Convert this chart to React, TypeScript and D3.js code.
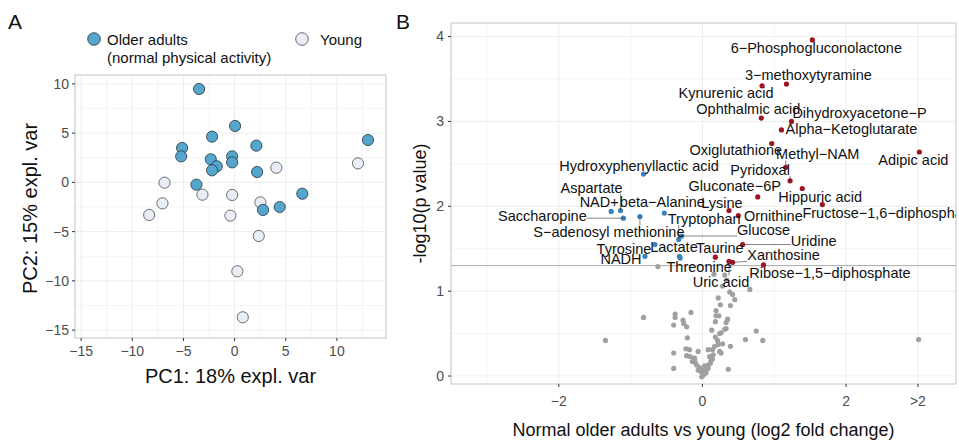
import React, { useEffect, useRef } from "react";
import * as d3 from "d3";

// ---------- Panel A data ----------
const olderPC1 = [-3.47, 0.05, -2.2, -5.13, -5.22, 2.13, -2.33, -1.74, -2.2, -0.24, -0.24, 2.2, -3.73, 13.04, 6.62, 2.78, 4.41];
const olderPC2 = [9.48, 5.73, 4.64, 3.49, 2.64, 3.73, 2.34, 1.63, 1.22, 2.64, 2.03, 1.05, -0.23, 4.3, -1.15, -2.8, -2.5];
const youngPC1 = [-6.85, -7.05, -8.35, -3.14, -0.24, -0.41, 4.08, 2.52, 2.36, 0.27, 0.8, 12.06];
const youngPC2 = [-0.03, -2.13, -3.31, -1.25, -1.28, -3.38, 1.49, -2.03, -5.44, -9.03, -13.7, 1.93];
const aTicks = [-15, -10, -5, 0, 5, 10];

// ---------- Panel B data ----------
const upNames = ["6−Phosphogluconolactone", "3−methoxytyramine", "Kynurenic acid", "Ophthalmic acid", "Dihydroxyacetone−P", "Alpha−Ketoglutarate", "Oxiglutathione", "Methyl−NAM", "Adipic acid", "Pyridoxal", "Hippuric acid", "Gluconate−6P", "Fructose−1,6−diphosphate", "Lysine", "Ornithine", "Uridine", "Taurine", "Uric acid", "Xanthosine", "Ribose−1,5−diphosphate"];
const upFC = [1.53, 1.17, 0.83, 0.82, 1.24, 1.1, 0.965, 1.16, 3.02, 1.22, 1.39, 0.77, 1.67, 0.37, 0.5, 0.56, 0.18, 0.37, 0.42, 0.85];
const upP = [3.96, 3.44, 3.42, 3.04, 3.0, 2.9, 2.74, 2.46, 2.64, 2.3, 2.21, 2.11, 2.02, 1.95, 1.89, 1.55, 1.4, 1.35, 1.34, 1.31];
const upDx = [4, 22, -36, -13, 68, 70, -36, 32, -6, -30, 18, -23, -20, -7, 35, 71, 4.5, -8, 51, 66.5];
const upDy = [8, -9, 7, -9, -9, -1, 6, -13, 8, -11, 8, -11, 8, -8, 0, -4, -9, 20, -7, 8];

const downNames = ["Hydroxyphenyllactic acid", "Aspartate", "NAD+", "beta−Alanine", "Saccharopine", "S−adenosyl methionine", "Tryptophan", "Glucose", "Tyrosine", "Lactate", "Threonine", "NADH"];
const downFC = [-0.82, -1.14, -1.27, -0.53, -1.1, -0.87, -0.33, -0.29, -0.66, -0.32, -0.31, -0.8];
const downP = [2.38, 1.95, 1.94, 1.92, 1.86, 1.88, 1.61, 1.65, 1.55, 1.41, 1.39, 1.41];
const downDx = [-4.5, -29, -12, -2, -81, -31, 25.5, 82, -31, -5.5, 19, -24];
const downDy = [-8, -23, -9, -11, -2, 15, -20.5, -6, 4, -9, 9, 3];

const segmentNames = ["Methyl−NAM", "Pyridoxal", "Uridine", "Xanthosine", "Uric acid", "Aspartate", "Saccharopine", "S−adenosyl methionine", "Tryptophan", "Glucose"];

const greyFC = [-0.62, 0.16, 0.31, 0.34, 0.28, 0.66, 0.38, 0.42, 0.45, 0.22, 0.25, 0.39, 0.19, -0.16, -0.38, -0.38, -0.82, 0.19, 0.23, 0.35, 0.33, 0.18, -0.27, -0.26, -0.22, -0.4, 0.33, 0.31, 0.13, 0.26, 0.24, 0.75, -0.21, 0.18, -1.35, 0.6, 0.84, 3.01, 0.21, 0.22, 0.39, 0.17, -0.23, -0.18, -0.06, 0.08, 0.14, 0.24, 0.26, -0.4, -0.22, -0.17, -0.11, 0.1, 0.14, -0.14, -0.08, -0.04, 0.01, 0.05, 0.01, 0.08, 0.11, 0.08, 0.03, -0.06, -0.4, 0.36, -0.01, -0.1, -0.02, 0.03, 0.06, 0.12, -0.12, 0.15, 0.28];
const greyP = [1.29, 1.2, 1.19, 1.13, 1.06, 1.02, 0.99, 0.96, 0.9, 0.92, 0.84, 0.83, 0.77, 0.75, 0.73, 0.69, 0.69, 0.71, 0.71, 0.67, 0.63, 0.64, 0.66, 0.62, 0.58, 0.6, 0.56, 0.55, 0.54, 0.51, 0.5, 0.53, 0.45, 0.46, 0.42, 0.43, 0.42, 0.43, 0.42, 0.37, 0.35, 0.35, 0.32, 0.31, 0.29, 0.31, 0.31, 0.29, 0.27, 0.27, 0.24, 0.23, 0.21, 0.23, 0.2, 0.17, 0.13, 0.1, 0.07, 0.04, 0.01, 0.09, 0.15, 0.13, 0.12, 0.07, 0.09, 0.08, -0.01, 0.16, 0.05, 0.03, 0.1, 0.18, 0.19, 0.25, 0.38];

const bXTicks = [-2, 0, 2, 3];
const bXTickLabels = ["−2", "0", "2", ">2"];
const bYTicks = [0, 1, 2, 3, 4];
const pThreshold = 1.301;

const FONT = "Liberation Sans, Arial, Helvetica, sans-serif";

export default function App() {
  const ref = useRef<SVGSVGElement | null>(null);

  useEffect(() => {
    const svg = d3.select(ref.current);
    svg.selectAll("*").remove();
    const fmt = d3.format("");

    // ===== Panel A =====
    const ax0 = 75, ax1 = 386, ay0 = 75, ay1 = 338;
    const xA = d3.scaleLinear().domain([-15.6, 14.8]).range([ax0, ax1]);
    const yA = d3.scaleLinear().domain([-15.8, 10.9]).range([ay1, ay0]);
    const gA = svg.append("g");
    gA.append("rect").attr("x", ax0).attr("y", ay0).attr("width", ax1 - ax0).attr("height", ay1 - ay0).attr("fill", "white");
    const minorA = d3.range(-15, 12.6, 2.5);
    minorA.forEach((v) => {
      const major = v % 5 === 0;
      gA.append("line").attr("x1", xA(v)).attr("x2", xA(v)).attr("y1", ay0).attr("y2", ay1)
        .attr("stroke", "#ebebeb").attr("stroke-width", major ? 0.9 : 0.5);
      if (v <= 10)
        gA.append("line").attr("y1", yA(v)).attr("y2", yA(v)).attr("x1", ax0).attr("x2", ax1)
          .attr("stroke", "#ebebeb").attr("stroke-width", major ? 0.9 : 0.5);
    });
    gA.append("rect").attr("x", ax0).attr("y", ay0).attr("width", ax1 - ax0).attr("height", ay1 - ay0)
      .attr("fill", "none").attr("stroke", "#c4c4c4").attr("stroke-width", 1);
    aTicks.forEach((t) => {
      gA.append("line").attr("x1", xA(t)).attr("x2", xA(t)).attr("y1", ay1).attr("y2", ay1 + 3).attr("stroke", "#333");
      gA.append("text").attr("x", xA(t)).attr("y", ay1 + 18).attr("text-anchor", "middle")
        .attr("font-size", 14).attr("fill", "#4d4d4d").attr("font-family", FONT).text(fmt(t));
      gA.append("line").attr("x1", ax0 - 3).attr("x2", ax0).attr("y1", yA(t)).attr("y2", yA(t)).attr("stroke", "#333");
      gA.append("text").attr("x", ax0 - 6).attr("y", yA(t)).attr("dy", "0.35em").attr("text-anchor", "end")
        .attr("font-size", 14).attr("fill", "#4d4d4d").attr("font-family", FONT).text(fmt(t));
    });
    youngPC1.forEach((v, i) => {
      gA.append("circle").attr("cx", xA(v)).attr("cy", yA(youngPC2[i])).attr("r", 5.6)
        .attr("fill", "#e8edf6").attr("stroke", "#4a4a4a").attr("stroke-width", 0.8);
    });
    olderPC1.forEach((v, i) => {
      gA.append("circle").attr("cx", xA(v)).attr("cy", yA(olderPC2[i])).attr("r", 5.6)
        .attr("fill", "#55a5cd").attr("stroke", "#24343c").attr("stroke-width", 0.8);
    });
    gA.append("text").attr("x", (ax0 + ax1) / 2).attr("y", 383).attr("text-anchor", "middle")
      .attr("font-size", 20).attr("font-family", FONT).attr("fill", "#111").text("PC1: 18% expl. var");
    gA.append("text").attr("transform", `translate(37,${(ay0 + ay1) / 2 + 2}) rotate(-90)`).attr("text-anchor", "middle")
      .attr("font-size", 20).attr("font-family", FONT).attr("fill", "#111").text("PC2: 15% expl. var");
    // legend
    gA.append("circle").attr("cx", 94).attr("cy", 39).attr("r", 6.3).attr("fill", "#55a5cd").attr("stroke", "#24343c").attr("stroke-width", 0.8);
    gA.append("text").attr("x", 107).attr("y", 45).attr("font-size", 15).attr("font-family", FONT).attr("fill", "#111").text("Older adults");
    gA.append("text").attr("x", 107).attr("y", 63).attr("font-size", 15).attr("font-family", FONT).attr("fill", "#111").text("(normal physical activity)");
    gA.append("circle").attr("cx", 302).attr("cy", 39).attr("r", 6.3).attr("fill", "#e8edf6").attr("stroke", "#4a4a4a").attr("stroke-width", 0.8);
    gA.append("text").attr("x", 320).attr("y", 45).attr("font-size", 15).attr("font-family", FONT).attr("fill", "#111").text("Young");
    svg.append("text").attr("x", 8).attr("y", 29).attr("font-size", 21).attr("font-family", FONT).attr("fill", "#111").text("A");

    // ===== Panel B =====
    const bx0 = 451, bx1 = 956, by0 = 23, by1 = 384;
    const xB = d3.scaleLinear().domain([-3.5, 3.53]).range([bx0, bx1]);
    const yB = d3.scaleLinear().domain([-0.094, 4.16]).range([by1, by0]);
    const gB = svg.append("g");
    svg.append("defs").append("clipPath").attr("id", "clipB").append("rect")
      .attr("x", bx0).attr("y", by0).attr("width", bx1 - bx0).attr("height", by1 - by0);
    gB.append("rect").attr("x", bx0).attr("y", by0).attr("width", bx1 - bx0).attr("height", by1 - by0).attr("fill", "white");
    d3.range(-3, 3.01, 1).forEach((v) => {
      const major = bXTicks.includes(v);
      gB.append("line").attr("x1", xB(v)).attr("x2", xB(v)).attr("y1", by0).attr("y2", by1)
        .attr("stroke", "#ebebeb").attr("stroke-width", major ? 0.9 : 0.5);
    });
    d3.range(0, 4.01, 0.5).forEach((v) => {
      const major = Number.isInteger(v);
      gB.append("line").attr("y1", yB(v)).attr("y2", yB(v)).attr("x1", bx0).attr("x2", bx1)
        .attr("stroke", "#ebebeb").attr("stroke-width", major ? 0.9 : 0.5);
    });
    gB.append("line").attr("x1", bx0).attr("x2", bx1).attr("y1", yB(pThreshold)).attr("y2", yB(pThreshold))
      .attr("stroke", "#aaaaaa").attr("stroke-width", 1);
    gB.append("rect").attr("x", bx0).attr("y", by0).attr("width", bx1 - bx0).attr("height", by1 - by0)
      .attr("fill", "none").attr("stroke", "#c4c4c4").attr("stroke-width", 1);
    bXTicks.forEach((t, i) => {
      gB.append("line").attr("x1", xB(t)).attr("x2", xB(t)).attr("y1", by1).attr("y2", by1 + 3).attr("stroke", "#333");
      gB.append("text").attr("x", xB(t)).attr("y", by1 + 22).attr("text-anchor", "middle")
        .attr("font-size", 14).attr("fill", "#4d4d4d").attr("font-family", FONT).text(bXTickLabels[i]);
    });
    bYTicks.forEach((t) => {
      gB.append("line").attr("x1", bx0 - 3).attr("x2", bx0).attr("y1", yB(t)).attr("y2", yB(t)).attr("stroke", "#333");
      gB.append("text").attr("x", bx0 - 7).attr("y", yB(t)).attr("dy", "0.35em").attr("text-anchor", "end")
        .attr("font-size", 14).attr("fill", "#4d4d4d").attr("font-family", FONT).text(fmt(t));
    });
    const pts = gB.append("g");
    greyFC.forEach((v, i) => {
      pts.append("circle").attr("cx", xB(v)).attr("cy", yB(greyP[i])).attr("r", 2.6).attr("fill", "#a0a0a0");
    });
    upFC.forEach((v, i) => {
      pts.append("circle").attr("cx", xB(v)).attr("cy", yB(upP[i])).attr("r", 2.6).attr("fill", "#9e1420");
    });
    downFC.forEach((v, i) => {
      pts.append("circle").attr("cx", xB(v)).attr("cy", yB(downP[i])).attr("r", 2.6).attr("fill", "#3a82bb");
    });

    const segG = gB.append("g").attr("clip-path", "url(#clipB)");
    const labG = gB.append("g").attr("clip-path", "url(#clipB)");
    const addLabels = (names: string[], fc: number[], p: number[], dx: number[], dy: number[]) => {
      names.forEach((n, i) => {
        const px = xB(fc[i]), py = yB(p[i]);
        const isStart = n.startsWith("Fructose");
        const t = labG.append("text").attr("x", px + dx[i]).attr("y", py + dy[i]).attr("dy", "0.35em")
          .attr("text-anchor", isStart ? "start" : "middle").attr("font-size", 14.5)
          .attr("font-family", FONT).attr("fill", "#111").text(n);
        if (segmentNames.includes(n)) {
          const bb = (t.node() as SVGTextElement).getBBox();
          const cx = Math.max(bb.x, Math.min(bb.x + bb.width, px));
          const cy = Math.max(bb.y + 2, Math.min(bb.y + bb.height - 2, py));
          segG.append("line").attr("x1", px).attr("y1", py).attr("x2", cx).attr("y2", cy)
            .attr("stroke", "#333").attr("stroke-width", 0.6);
        }
      });
    };
    addLabels(upNames, upFC, upP, upDx, upDy);
    addLabels(downNames, downFC, downP, downDx, downDy);

    gB.append("text").attr("x", (bx0 + bx1) / 2).attr("y", 436).attr("text-anchor", "middle")
      .attr("font-size", 18).attr("font-family", FONT).attr("fill", "#111").text("Normal older adults vs young (log2 fold change)");
    gB.append("text").attr("transform", `translate(426,${(by0 + by1) / 2}) rotate(-90)`).attr("text-anchor", "middle")
      .attr("font-size", 18).attr("font-family", FONT).attr("fill", "#111").text("-log10(p value)");
    svg.append("text").attr("x", 396).attr("y", 29).attr("font-size", 21).attr("font-family", FONT).attr("fill", "#111").text("B");
  }, []);

  return (
    <svg ref={ref} width={959} height={440} style={{ position: "absolute", left: 0, top: 0, background: "white" }} />
  );
}
